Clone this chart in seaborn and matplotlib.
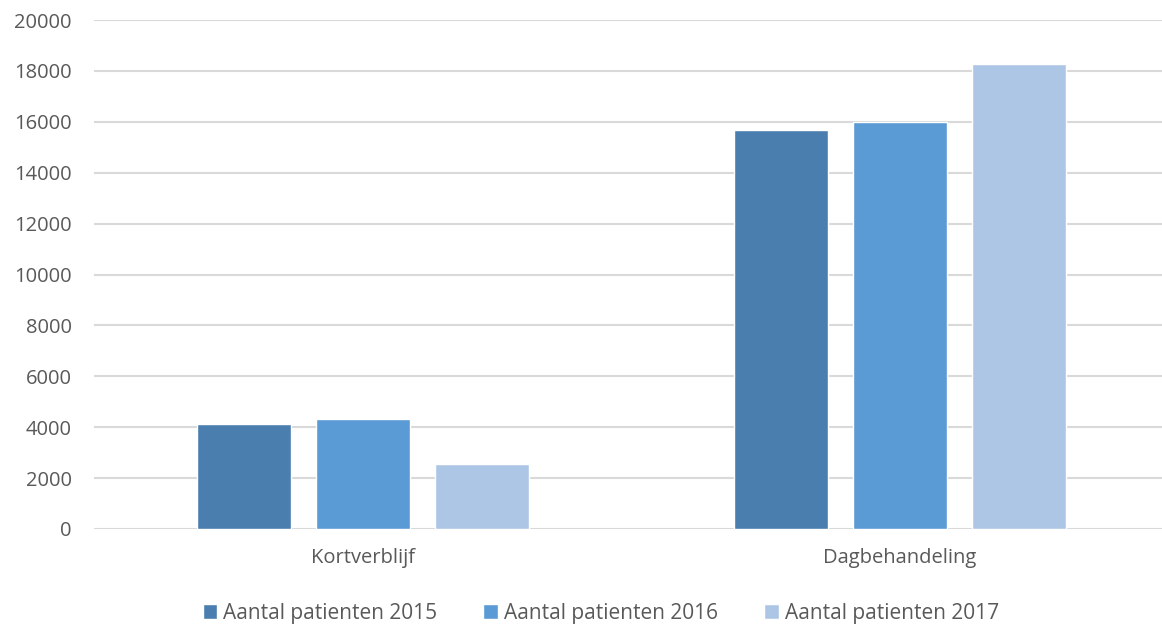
import matplotlib
matplotlib.use("Agg")
import matplotlib.pyplot as plt
import seaborn as sns
import pandas as pd

categories = ['Kortverblijf', 'Dagbehandeling']
series = ['Aantal patienten 2015', 'Aantal patienten 2016', 'Aantal patienten 2017']
values_2015 = [4135, 15665]
values_2016 = [4330, 15975]
values_2017 = [2545, 18260]
colors = ['#4A7EAE', '#5B9BD5', '#ADC6E6']

rows = []
for name, vals in zip(series, [values_2015, values_2016, values_2017]):
    for cat, v in zip(categories, vals):
        rows.append({'categorie': cat, 'reeks': name, 'aantal': v})
df = pd.DataFrame(rows)

sns.set_theme(style='white')
plt.rcParams['font.family'] = ['Open Sans', 'DejaVu Sans']
text_col = '#595959'

fig = plt.figure(figsize=(11.62, 6.28), dpi=100)
ax = fig.add_axes([94 / 1162, 99 / 628, 1 - 94 / 1162, 509 / 628])

sns.barplot(data=df, x='categorie', y='aantal', hue='reeks', order=categories,
            hue_order=series, palette=colors, width=0.665, gap=0.21,
            saturation=1, ax=ax, zorder=3)

ax.set_ylim(0, 20000)
ax.set_xlim(-0.501, 1.488)
ax.set_yticks(range(0, 20001, 2000))
ax.yaxis.grid(True, color='#D9D9D9', linewidth=1.5, zorder=0)
ax.set_axisbelow(True)
for s in ax.spines.values():
    s.set_visible(False)
ax.set_xlabel('')
ax.set_ylabel('')
ax.tick_params(axis='y', length=0, pad=16, labelsize=14.5, labelcolor=text_col)
ax.tick_params(axis='x', length=0, pad=14, labelsize=14.5, labelcolor=text_col)

handles, labels = ax.get_legend_handles_labels()
ax.legend_.remove()
fig.legend(handles, labels, loc='center', bbox_to_anchor=(0.517, 1 - 613 / 628),
           ncol=3, frameon=False, fontsize=15, labelcolor=text_col,
           handlelength=0.7, handleheight=0.7, handletextpad=0.3,
           columnspacing=2.2)

fig.savefig('out.png', dpi=100)
